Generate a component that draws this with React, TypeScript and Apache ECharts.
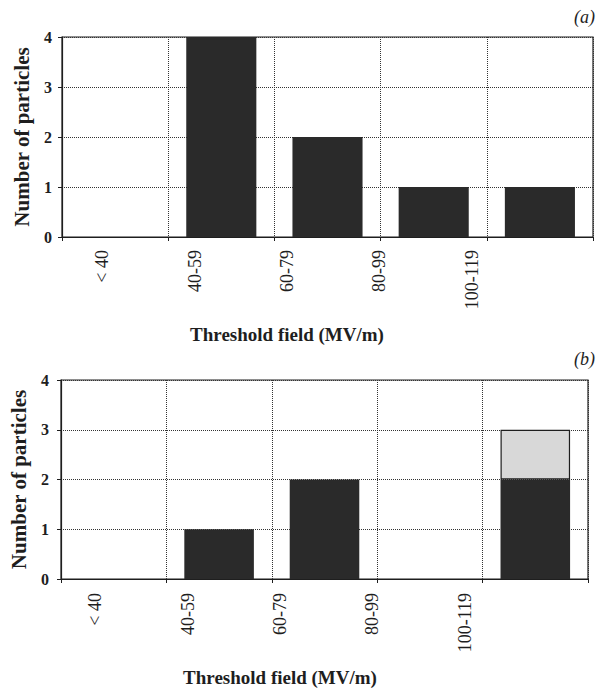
import React, { useEffect, useRef } from "react";
import * as echarts from "echarts";

const categories = ["< 40", "40-59", "60-79", "80-99", "100-119"];
const countsA = [0, 4, 2, 1, 1];
const countsBDark = [0, 1, 2, 0, 2];
const countsBLight = [0, 0, 0, 0, 1];
const yName = "Number of particles";
const xName = "Threshold field (MV/m)";

const SERIF = "'Liberation Serif', 'DejaVu Serif', serif";
const INK = "#1e1e1e";
const BAR = "#2a2a2a";

function mainX(gridIndex: number) {
  return {
    gridIndex,
    type: "category",
    data: categories,
    boundaryGap: true,
    axisLine: { show: true, lineStyle: { color: INK, width: 1.2 } },
    axisTick: { show: true, length: 4, interval: 0, lineStyle: { color: INK } },
    axisLabel: { show: false },
    splitLine: { show: true, interval: 0, lineStyle: { type: "dotted", color: "#333", width: 1 } },
  };
}

function labelX(gridIndex: number, margin: number, nameGap: number) {
  return {
    gridIndex,
    type: "category",
    data: categories,
    axisLine: { show: false },
    axisTick: { show: false },
    splitLine: { show: false },
    axisLabel: { rotate: 90, interval: 0, margin, fontFamily: SERIF, fontSize: 18, color: INK },
    name: xName,
    nameLocation: "middle",
    nameGap,
    nameTextStyle: { fontFamily: SERIF, fontSize: 19, fontWeight: "bold", color: INK },
  };
}

function mainY(gridIndex: number, margin: number, nameGap: number) {
  return {
    gridIndex,
    type: "value",
    min: 0,
    max: 4,
    interval: 1,
    axisLine: { show: true, lineStyle: { color: INK, width: 1.2 } },
    axisTick: { show: true, length: 4, lineStyle: { color: INK } },
    axisLabel: { margin, fontFamily: SERIF, fontSize: 16, fontWeight: "bold", color: INK },
    splitLine: { show: true, lineStyle: { type: "dotted", color: "#333", width: 1 } },
    name: yName,
    nameLocation: "middle",
    nameRotate: 90,
    nameGap,
    nameTextStyle: { fontFamily: SERIF, fontSize: 21, fontWeight: "bold", color: INK },
  };
}

export default function App() {
  const ref = useRef<HTMLDivElement>(null);
  useEffect(() => {
    if (!ref.current) return;
    const chart = echarts.init(ref.current, null, { renderer: "svg" });
    const option = {
      animation: false,
      backgroundColor: "#ffffff",
      grid: [
        { left: 62, top: 37, width: 531, height: 200, show: true, borderColor: INK, borderWidth: 1.2 },
        { left: 56, top: 230, width: 462, height: 10 },
        { left: 58, top: 380, width: 530, height: 199, show: true, borderColor: INK, borderWidth: 1.2 },
        { left: 49, top: 571, width: 462, height: 10 },
      ],
      xAxis: [mainX(0), labelX(1, 10, 85), mainX(2), labelX(3, 12, 87)],
      yAxis: [
        mainY(0, 10, 30),
        { gridIndex: 1, type: "value", show: false },
        mainY(2, 12, 32),
        { gridIndex: 3, type: "value", show: false },
      ],
      graphic: [
        {
          type: "text",
          left: 574,
          top: 8,
          style: { text: "(a)", fontFamily: SERIF, fontStyle: "italic", fontSize: 18, fill: INK },
        },
        {
          type: "text",
          left: 574,
          top: 350,
          style: { text: "(b)", fontFamily: SERIF, fontStyle: "italic", fontSize: 18, fill: INK },
        },
      ],
      series: [
        {
          type: "bar",
          xAxisIndex: 0,
          yAxisIndex: 0,
          data: countsA,
          barWidth: "66%",
          itemStyle: { color: BAR },
        },
        {
          type: "bar",
          xAxisIndex: 2,
          yAxisIndex: 2,
          stack: "b",
          data: countsBDark,
          barWidth: "66%",
          itemStyle: { color: BAR },
        },
        {
          type: "bar",
          xAxisIndex: 2,
          yAxisIndex: 2,
          stack: "b",
          data: countsBLight.map((v) => (v === 0 ? null : v)),
          barWidth: "66%",
          itemStyle: { color: "#d8d8d8", borderColor: INK, borderWidth: 1.2 },
        },
      ],
    };
    chart.setOption(option as any);
    return () => chart.dispose();
  }, []);
  return (
    <div
      ref={ref}
      style={{ position: "fixed", left: 0, top: 0, width: 596, height: 689, background: "#fff" }}
    />
  );
}
